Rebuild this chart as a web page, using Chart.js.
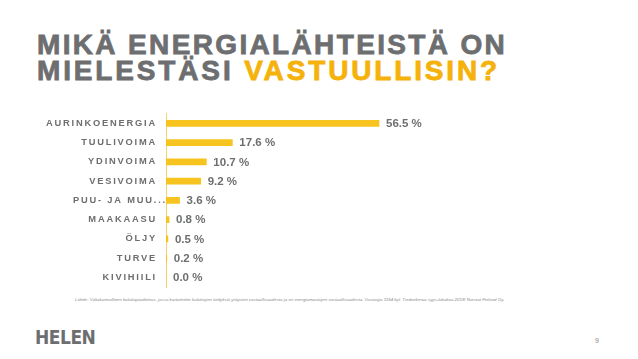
<!DOCTYPE html>
<html>
<head>
<meta charset="utf-8">
<script src="https://cdn.jsdelivr.net/npm/chart.js@4"></script>
<style>
  body { margin: 0; width: 638px; height: 359px; background: #fff; overflow: hidden; position: relative; font-family: "Liberation Sans", Arial, sans-serif; }
  #title { position: absolute; left: 37px; top: 32px; font-size: 28px; font-weight: bold; line-height: 26px; color: #6d6e70; -webkit-text-stroke: 0.8px #6d6e70; white-space: nowrap; }
  #title .l1 { letter-spacing: 2.35px; }
  #title .l2 { letter-spacing: 2.85px; }
  #title .hi { color: #f5b20a; -webkit-text-stroke: 0.8px #f5b20a; }
  #wrap { position: absolute; left: 0; top: 101px; width: 638px; height: 195px; }
  #note { position: absolute; left: 75px; top: 297px; font-size: 4.4px; font-style: italic; color: #8a8a8a; white-space: nowrap; }
  #logo { position: absolute; left: 35px; top: 326px; font-family: "DejaVu Sans Condensed", "DejaVu Sans", sans-serif; font-weight: bold; font-size: 19px; letter-spacing: -0.5px; color: #6d6e70; }
  #page { position: absolute; left: 595px; top: 337px; font-size: 7px; color: #888; }
</style>
</head>
<body>
<div id="title"><span class="l1">MIKÄ ENERGIALÄHTEISTÄ ON</span><br><span class="l2">MIELESTÄSI <span class="hi">VASTUULLISIN?</span></span></div>
<div id="wrap"><canvas id="chart"></canvas></div>
<div id="note">Lähde: Valtakunnallinen kuluttajatutkimus, jossa kartoitettiin kuluttajien tiedyksiä yritysten vastuullisuudesta ja eri energiamuotojen vastuullisuudesta. Vastaajia 1164 kpl. Tiedonkeruu syys-lokakuu 2018/ Norstat Finland Oy.</div>
<div id="logo">HELEN</div>
<div id="page">9</div>
<script>
const CATEGORIES = ["AURINKOENERGIA", "TUULIVOIMA", "YDINVOIMA", "VESIVOIMA", "PUU- JA MUU...", "MAAKAASU", "ÖLJY", "TURVE", "KIVIHIILI"];
const VALUES = [56.5, 17.6, 10.7, 9.2, 3.6, 0.8, 0.5, 0.2, 0.0];

const GREY = "#6d6e70";
const YELLOW = "#f7c41f";

// draws the spaced-out category names and the value labels
const labelPlugin = {
    id: "labels",
    afterDatasetsDraw(chart) {
        const ctx = chart.ctx;
        const yScale = chart.scales.y;
        const meta = chart.getDatasetMeta(0);
        ctx.save();
        ctx.textBaseline = "middle";
        ctx.fillStyle = GREY;
        ctx.font = "bold 9.3px 'Liberation Sans', Arial, sans-serif";
        ctx.letterSpacing = "1.8px";
        CATEGORIES.forEach(function (cat, i) {
            let y = yScale.getPixelForValue(i);
            if (cat.endsWith("...")) {
                // truncated label runs over onto the axis like in the slide
                ctx.textAlign = "left";
                ctx.fillText(cat, 73, y);
            } else {
                ctx.textAlign = "right";
                ctx.fillText(cat, 157, y);
            }
        });
        ctx.letterSpacing = "0px";
        ctx.font = "bold 11.5px 'Liberation Sans', Arial, sans-serif";
        ctx.textAlign = "left";
        meta.data.forEach(function (bar, i) {
            ctx.fillText(VALUES[i].toFixed(1) + " %", bar.x + 7, bar.y + 0.5);
        });
        ctx.restore();
    }
};

new Chart(document.getElementById("chart"), {
    type: "bar",
    data: {
        labels: CATEGORIES,
        datasets: [{
            data: VALUES,
            backgroundColor: YELLOW,
            barThickness: 6,
            borderWidth: 0
        }]
    },
    options: {
        indexAxis: "y",
        responsive: true,
        maintainAspectRatio: false,
        animation: false,
        layout: { padding: { top: 12.7, bottom: 9, right: 95, left: 0 } },
        plugins: { legend: { display: false }, tooltip: { enabled: false } },
        scales: {
            x: { display: false, min: 0, max: 100 },
            y: {
                grid: { display: false },
                ticks: { display: false },
                border: { display: true, color: "#f3d36b", width: 1 },
                afterFit: function (scale) { scale.width = 166; }
            }
        }
    },
    plugins: [labelPlugin]
});
</script>
</body>
</html>
